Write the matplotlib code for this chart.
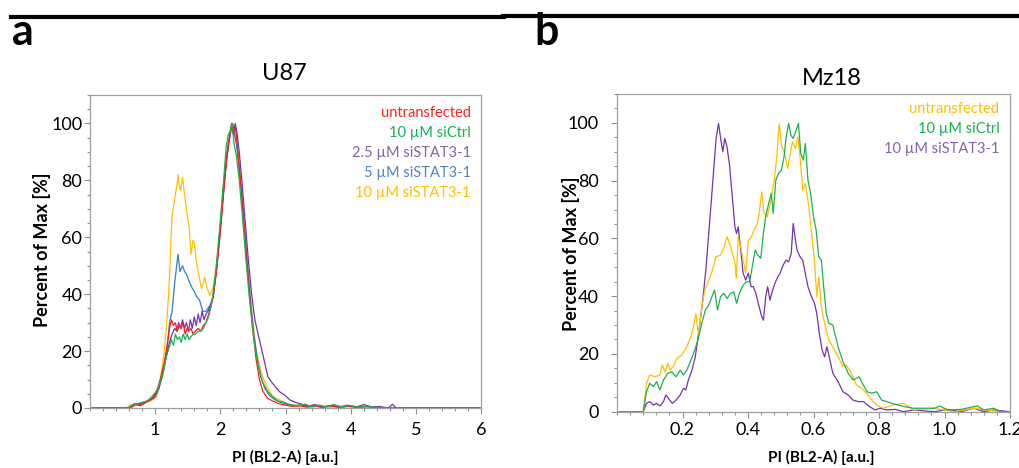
import numpy as np
import matplotlib
matplotlib.use("Agg")
import matplotlib.pyplot as plt
from matplotlib.lines import Line2D
from matplotlib.ticker import MultipleLocator

plt.rcParams['font.family'] = ['Lato', 'DejaVu Sans']

# ---- U87 histograms (PI, percent of max) ----
u87_red_x = [0, 0.62, 0.70, 0.78, 0.86, 0.94, 1.02, 1.09, 1.14, 1.19,
             1.22, 1.25, 1.28, 1.31, 1.34, 1.37, 1.40, 1.43, 1.46, 1.49,
             1.52, 1.55, 1.58, 1.62, 1.66, 1.70, 1.74, 1.78, 1.82, 1.86,
             1.90, 1.95, 2.00, 2.05, 2.10, 2.14, 2.17, 2.20, 2.23, 2.26,
             2.30, 2.35, 2.40, 2.45, 2.50, 2.55, 2.60, 2.65, 2.72, 2.80,
             2.90, 3.00, 3.10, 3.22, 3.32, 3.42, 3.55, 3.68, 3.80, 3.95,
             4.10, 4.25, 4.40, 6.0]
u87_red_y = [0, 0, 1.2, 0.8, 2.0, 3.0, 5.5, 11, 16, 23,
             28, 31, 29, 30, 27, 29, 28, 30, 26, 28,
             27, 28, 26, 27, 28, 27, 29, 30, 33, 36,
             41, 50, 62, 76, 88, 95, 100, 96, 99, 92,
             82, 68, 53, 39, 27, 17, 10, 6, 3.5, 2.5,
             1.5, 1.0, 0.6, 0.8, 0.3, 0.9, 0.2, 0.7, 0.3, 0.6,
             0.2, 0.5, 0, 0]

u87_green_x = [0, 0.58, 0.65, 0.72, 0.80, 0.88, 0.95, 1.02, 1.08, 1.13,
               1.17, 1.21, 1.25, 1.28, 1.31, 1.34, 1.37, 1.40, 1.43, 1.46,
               1.49, 1.52, 1.55, 1.58, 1.62, 1.66, 1.70, 1.74, 1.78, 1.82,
               1.86, 1.90, 1.95, 2.00, 2.05, 2.09, 2.12, 2.15, 2.18, 2.21,
               2.25, 2.29, 2.34, 2.39, 2.44, 2.49, 2.54, 2.59, 2.65, 2.72,
               2.80, 2.88, 2.97, 3.07, 3.20, 3.30, 3.40, 3.52, 3.62, 3.74,
               3.86, 3.98, 4.12, 4.25, 4.38, 4.50, 6.0]
u87_green_y = [0, 0, 1.0, 1.5, 2.0, 2.5, 4.0, 6.0, 9, 13,
               18, 21, 24, 22, 26, 24, 25, 23, 26, 24,
               26, 24, 25, 26, 26, 27, 27, 28, 30, 32,
               36, 42, 53, 66, 80, 92, 96, 97, 100, 93,
               88, 80, 67, 53, 40, 29, 20, 14, 9, 6,
               4, 2.5, 2.0, 1.2, 0.8, 1.4, 0.4, 1.0, 0.3, 1.2,
               0.4, 0.9, 0.3, 0.7, 0.2, 0, 0]

u87_purple_x = [0, 0.60, 0.68, 0.75, 0.82, 0.90, 0.98, 1.05, 1.10, 1.15,
                1.19, 1.22, 1.26, 1.30, 1.33, 1.36, 1.39, 1.42, 1.45, 1.48,
                1.51, 1.54, 1.57, 1.60, 1.63, 1.66, 1.69, 1.72, 1.75, 1.78,
                1.81, 1.85, 1.89, 1.94, 1.99, 2.04, 2.09, 2.13, 2.17, 2.20,
                2.23, 2.26, 2.29, 2.33, 2.38, 2.43, 2.48, 2.53, 2.58, 2.63,
                2.68, 2.73, 2.79, 2.86, 2.92, 2.99, 3.07, 3.15, 3.25, 3.35,
                3.45, 3.58, 3.70, 3.82, 3.95, 4.08, 4.20, 4.32, 4.45, 4.58,
                4.64, 4.70, 6.0]
u87_purple_y = [0, 0, 1.5, 1.0, 2.0, 2.5, 3.5, 7, 11, 16,
                20, 23, 26, 28, 27, 30, 28, 31, 28, 30,
                27, 31, 28, 32, 29, 33, 30, 34, 31, 33,
                34, 36, 39, 48, 60, 73, 86, 93, 99, 97,
                100, 96, 90, 80, 66, 52, 40, 31, 26, 21,
                16, 11, 9, 7, 5.5, 4.5, 2.8, 2.0, 1.3, 0.6,
                1.2, 0.4, 0.9, 0.3, 1.0, 0.3, 1.2, 0.4, 0.5, 0,
                1.3, 0, 0]

u87_blue_x = [0, 0.60, 0.68, 0.76, 0.84, 0.92, 1.00, 1.06, 1.11, 1.15,
              1.18, 1.22, 1.26, 1.30, 1.33, 1.35, 1.38, 1.42, 1.45, 1.48,
              1.53, 1.57, 1.60, 1.64, 1.68, 1.73, 1.78, 1.81, 1.84, 1.89,
              1.94, 1.99, 2.04, 2.09, 2.13, 2.16, 2.19, 2.22, 2.25, 2.28,
              2.32, 2.37, 2.42, 2.47, 2.52, 2.57, 2.62, 2.68, 2.75, 2.83,
              2.92, 3.02, 3.12, 3.24, 3.36, 3.48, 3.60, 3.72, 3.85, 3.98,
              4.12, 4.25, 4.40, 6.0]
u87_blue_y = [0, 0, 1.0, 1.5, 2.0, 3.0, 4.0, 7, 11, 16,
              20, 30, 34, 44, 50, 54, 48, 50, 48, 47,
              44, 42, 41, 39, 38, 34, 34, 35, 36, 39,
              49, 61, 75, 87, 94, 97, 100, 96, 92, 86,
              77, 63, 49, 36, 25, 17, 11, 7, 4.5, 3,
              2, 1.3, 0.8, 1.1, 0.3, 0.9, 0.4, 1.0, 0.2, 0.8,
              0.3, 0.6, 0, 0]

u87_yellow_x = [0, 0.55, 0.62, 0.70, 0.78, 0.86, 0.94, 1.02, 1.06, 1.09,
                1.13, 1.16, 1.18, 1.20, 1.22, 1.24, 1.26, 1.29, 1.32, 1.34,
                1.35, 1.37, 1.39, 1.42, 1.45, 1.49, 1.52, 1.55, 1.58, 1.60,
                1.63, 1.66, 1.71, 1.74, 1.76, 1.79, 1.84, 1.89, 1.94, 1.99,
                2.04, 2.09, 2.14, 2.19, 2.22, 2.25, 2.30, 2.35, 2.40, 2.45,
                2.50, 2.55, 2.63, 2.71, 2.81, 2.96, 3.08, 3.20, 3.32, 3.44,
                3.56, 3.68, 3.80, 3.92, 4.05, 4.18, 4.30, 6.0]
u87_yellow_y = [0, 0, 1.0, 1.5, 1.0, 2.0, 2.5, 4.0, 7, 12,
                18, 25, 31, 38, 46, 58, 68, 72, 76.5, 79,
                82, 78, 76.5, 81, 75, 68, 64, 54, 59, 58,
                52, 48, 42, 44, 46, 42.5, 39.6, 42.5, 49.6, 61,
                76.5, 88, 96.5, 100, 96, 95, 83.5, 70.6, 56.6, 42.6,
                29.8, 20.4, 12.2, 7.5, 4, 2.2, 1.0, 0.5, 1.1, 0.3,
                0.9, 0.2, 0.8, 0.3, 0.6, 0.2, 0, 0]

# ---- Mz18 histograms ----
mz18_yellow_x = [0, 0.08, 0.09, 0.10, 0.116, 0.131, 0.138, 0.147, 0.155, 0.162,
                 0.172, 0.183, 0.198, 0.213, 0.229, 0.241, 0.249, 0.259, 0.268, 0.28,
                 0.29, 0.302, 0.316, 0.326, 0.336, 0.347, 0.354, 0.36, 0.364, 0.37,
                 0.378, 0.385, 0.393, 0.401, 0.411, 0.418, 0.429, 0.436, 0.442, 0.449,
                 0.459, 0.47, 0.48, 0.488, 0.495, 0.503, 0.511, 0.521, 0.529, 0.536,
                 0.545, 0.552, 0.559, 0.567, 0.575, 0.586, 0.593, 0.603, 0.61, 0.616,
                 0.624, 0.634, 0.647, 0.659, 0.675, 0.69, 0.70, 0.716, 0.731, 0.747,
                 0.762, 0.778, 0.793, 0.813, 0.844, 0.875, 0.906, 0.967, 1.03, 1.09,
                 1.13, 1.17, 1.2]
mz18_yellow_y = [0, 0, 9.8, 12.7, 12.1, 12.7, 16.2, 13.8, 16.7, 14.4,
                 15.6, 18.5, 19.6, 22.5, 27.1, 34, 26, 36.3, 42, 45.6,
                 48.4, 53.6, 54.2, 56.5, 60.6, 57.1, 54.2, 51.9, 46.1, 60.6,
                 57, 52.5, 47.9, 59.4, 60.6, 62.9, 65.2, 70.4, 76.1, 68.7,
                 67.5, 73.3, 80.2, 88.2, 99.8, 91.7, 90, 84.2, 89.4, 93.4,
                 91.1, 95.2, 88.2, 76.7, 79, 70.9, 62.9, 52.5, 39.8, 46.7,
                 36.3, 30.6, 24.8, 22.5, 19, 15.6, 16.2, 13.3, 9.2, 8.1,
                 6.4, 4, 2.3, 1.2, 2.3, 2.9, 0.6, 1.2, 0, 1.2,
                 0.6, 0, 0]

mz18_green_x = [0, 0.08, 0.09, 0.10, 0.111, 0.121, 0.131, 0.142, 0.155, 0.167,
                0.18, 0.193, 0.203, 0.213, 0.224, 0.234, 0.247, 0.259, 0.27, 0.28,
                0.29, 0.298, 0.307, 0.316, 0.326, 0.336, 0.347, 0.357, 0.365, 0.374,
                0.385, 0.395, 0.405, 0.413, 0.422, 0.43, 0.439, 0.447, 0.454, 0.463,
                0.471, 0.477, 0.485, 0.493, 0.502, 0.51, 0.516, 0.524, 0.531, 0.538,
                0.547, 0.554, 0.561, 0.569, 0.575, 0.583, 0.591, 0.60, 0.608, 0.616,
                0.624, 0.631, 0.639, 0.647, 0.659, 0.675, 0.69, 0.706, 0.721, 0.739,
                0.752, 0.764, 0.778, 0.793, 0.808, 0.824, 0.839, 0.859, 0.88, 0.905,
                0.938, 0.97, 0.985, 1.01, 1.05, 1.10, 1.12, 1.15, 1.17, 1.2]
mz18_green_y = [0, 0, 6.9, 9.8, 8.7, 10.4, 7.5, 11, 13.3, 13.8,
                12.1, 14.4, 12.7, 14.4, 17.3, 20.2, 24.8, 30.6, 35.2, 36.9,
                39.8, 42.1, 35.2, 39.8, 41, 39.2, 41, 41.5, 37.5, 41,
                43.8, 45, 45, 50.2, 56, 54.2, 53.1, 61.7, 67.5, 72.1,
                75.6, 68.7, 80.2, 82.5, 83.6, 88.2, 94.6, 99.8, 95.7, 94.6,
                97.5, 99.8, 89.4, 87.1, 92.9, 80.2, 75.6, 67.5, 62.9, 53.6,
                52.5, 43.3, 34, 30.6, 30, 22.5, 17.3, 13.3, 11, 12.1,
                9.2, 6.9, 6.4, 6.9, 4, 3.5, 2.9, 2.3, 1.7, 1.2,
                1.2, 1.2, 2, 0.6, 0.8, 2, 0.6, 1.2, 0, 0]

mz18_purple_x = [0, 0.08, 0.09, 0.10, 0.111, 0.121, 0.131, 0.142, 0.149, 0.159,
                 0.169, 0.18, 0.193, 0.203, 0.21, 0.218, 0.229, 0.239, 0.249, 0.257,
                 0.264, 0.272, 0.28, 0.288, 0.296, 0.303, 0.31, 0.316, 0.323, 0.329,
                 0.336, 0.344, 0.352, 0.36, 0.365, 0.37, 0.378, 0.385, 0.393, 0.401,
                 0.409, 0.416, 0.424, 0.434, 0.442, 0.447, 0.454, 0.46, 0.467, 0.475,
                 0.482, 0.491, 0.498, 0.507, 0.516, 0.524, 0.532, 0.538, 0.545, 0.55,
                 0.559, 0.567, 0.575, 0.583, 0.594, 0.603, 0.61, 0.618, 0.626, 0.634,
                 0.641, 0.649, 0.659, 0.675, 0.69, 0.706, 0.721, 0.737, 0.752, 0.772,
                 0.788, 0.803, 0.824, 0.85, 0.875, 0.905, 0.97, 1.01, 1.05, 1.09,
                 1.12, 1.15, 1.2]
mz18_purple_y = [0, 0, 2.9, 3.5, 2.3, 2.9, 2.0, 3.5, 5.8, 4.3,
                 2.9, 4.0, 5.8, 8.1, 7.5, 11, 14.4, 19, 27, 34,
                 41, 50, 61.6, 73, 85, 95, 99.8, 95, 90, 94.6,
                 91.7, 85, 74.5, 64, 61.7, 64, 56, 48, 45.6, 48,
                 43.3, 43.3, 41, 36.3, 32.9, 31.7, 39.8, 43.3, 38.6, 42,
                 44.4, 46.7, 47.9, 50.7, 52.5, 51.9, 54.8, 65.2, 59.4, 55.9,
                 53.6, 52.5, 47.9, 43.3, 39.8, 37.5, 34, 27, 21.4, 19,
                 22.5, 18.5, 13.3, 10.4, 6.9, 5.8, 4, 3.5, 3.5, 1.7,
                 0.6, 1.2, 0.6, 0.8, 0, 0.6, 0, 0.8, 0, 1.2,
                 0, 0.6, 0]

u87_labels = ["untransfected", "10 µM siCtrl", "2.5 µM siSTAT3-1",
              "5 µM siSTAT3-1", "10 µM siSTAT3-1"]
mz18_labels = ["untransfected", "10 µM siCtrl", "10 µM siSTAT3-1"]
u87_ticks = [1, 2, 3, 4, 5, 6]
mz18_ticks = [0.2, 0.4, 0.6, 0.8, 1.0, 1.2]
mz18_ticklabels = ["0.2", "0.4", "0.6", "0.8", "1.0", "1.2"]
y_ticks = [0, 20, 40, 60, 80, 100]

RED, GREEN, PURPLE, BLUE, YELLOW = '#ff1a1a', '#1fb04f', '#7434a8', '#2f7fd2', '#ffc000'

W, H = 1019, 468
fig = plt.figure(figsize=(W / 100, H / 100), dpi=100)


def px_box(left, top, right, bottom):
    return [left / W, 1 - bottom / H, (right - left) / W, (bottom - top) / H]


def style_axes(ax, xmax, xminor, xpad, ypad):
    ax.set_xlim(0, xmax)
    ax.set_ylim(0, 110)
    ax.set_yticks(y_ticks)
    ax.yaxis.set_minor_locator(MultipleLocator(5))
    ax.xaxis.set_minor_locator(MultipleLocator(xminor))
    for s in ax.spines.values():
        s.set_color('#a0a0a0')
        s.set_linewidth(0.9)
    ax.tick_params(which='both', direction='out', color='#909090', width=0.8,
                   labelsize=13, labelcolor='black')
    ax.tick_params(which='major', length=4)
    ax.tick_params(which='minor', length=2.2)
    ax.tick_params(axis='x', pad=xpad)
    ax.tick_params(axis='y', pad=ypad)


# ---- panel a: U87 ----
ax1 = fig.add_axes(px_box(90, 95, 481, 408))
ax1.plot(u87_yellow_x, u87_yellow_y, color=YELLOW, lw=0.9)
ax1.plot(u87_blue_x, u87_blue_y, color=BLUE, lw=0.9)
ax1.plot(u87_purple_x, u87_purple_y, color=PURPLE, lw=0.9)
ax1.plot(u87_red_x, u87_red_y, color=RED, lw=0.9)
ax1.plot(u87_green_x, u87_green_y, color=GREEN, lw=0.9)
style_axes(ax1, 6, 0.2, 6, 1.5)
ax1.set_xticks(u87_ticks)

leg1_colors = ['#ff2020', '#16b050', '#8064a8', '#4f84c4', '#ffc000']
for i, (lab, c) in enumerate(zip(u87_labels, leg1_colors)):
    ax1.text(0.974, 0.942 - i * 0.0639, lab, color=c, fontsize=10.5,
             ha='right', va='center', transform=ax1.transAxes)

# ---- panel b: Mz18 ----
ax2 = fig.add_axes(px_box(617, 94, 1010, 411.7))
ax2.plot(mz18_purple_x, mz18_purple_y, color=PURPLE, lw=0.9)
ax2.plot(mz18_yellow_x, mz18_yellow_y, color=YELLOW, lw=0.9)
ax2.plot(mz18_green_x, mz18_green_y, color=GREEN, lw=0.9)
style_axes(ax2, 1.2, 0.04, 3.5, 9)
ax2.set_xticks(mz18_ticks)
ax2.set_xticklabels(mz18_ticklabels)

leg2_colors = ['#ffc000', '#16b050', '#8660b4']
for i, (lab, c) in enumerate(zip(mz18_labels, leg2_colors)):
    ax2.text(0.973, 0.953 - i * 0.063, lab, color=c, fontsize=10.5,
             ha='right', va='center', transform=ax2.transAxes)

# titles, axis labels, panel letters (placed in figure pixels)
fig.text(284 / W, 1 - 80 / H, "U87", fontsize=17, ha='center', va='baseline')
fig.text(832 / W, 1 - 85 / H, "Mz18", fontsize=17, ha='center', va='baseline')
for cx in (285.5, 821.7):
    fig.text(cx / W, 1 - 462 / H, "PI (BL2-A) [a.u.]", fontsize=11,
             fontweight='bold', ha='center', va='baseline')
fig.text(42 / W, 1 - 250 / H, "Percent of Max [%]", fontsize=13,
         fontweight='bold', rotation=90, ha='center', va='center')
fig.text(571 / W, 1 - 254 / H, "Percent of Max [%]", fontsize=13,
         fontweight='bold', rotation=90, ha='center', va='center')
fig.text(12 / W, 1 - 45 / H, "a", fontsize=31, fontweight='bold',
         ha='left', va='baseline')
fig.text(534 / W, 1 - 45 / H, "b", fontsize=31, fontweight='bold',
         ha='left', va='baseline')

# the two rules across the top
fig.add_artist(Line2D([11 / W, 504 / W], [1 - 17.3 / H, 1 - 17.3 / H],
                      color='black', lw=3.0))
fig.add_artist(Line2D([503 / W, 1.0], [1 - 16.2 / H, 1 - 16.2 / H],
                      color='black', lw=3.0))

plt.savefig("out.png", dpi=100)
plt.close()
